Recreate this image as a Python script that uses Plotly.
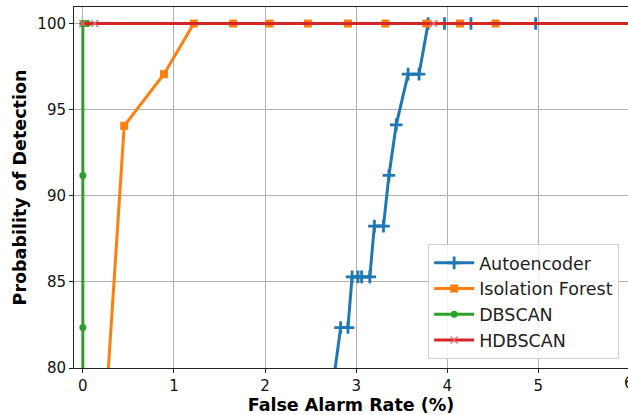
import plotly.graph_objects as go

# ---- data ----
ae_far = [2.68, 2.83, 2.91, 2.955, 3.02, 3.06, 3.15, 3.20, 3.30, 3.36, 3.44, 3.57, 3.69, 3.79, 3.97, 4.26, 4.97]
ae_pd = [76.47, 82.35, 82.35, 85.29, 85.29, 85.29, 85.29, 88.24, 88.24, 91.18, 94.12, 97.06, 97.06, 100, 100, 100, 100]

if_far = [0.20, 0.454, 0.89, 1.218, 1.65, 2.05, 2.47, 2.91, 3.32, 3.77, 4.14, 4.53]
if_pd = [73.5, 94.06, 97.06, 100, 100, 100, 100, 100, 100, 100, 100, 100]

db_far = [0, 0, 0, 0, 0.03, 0.05]
db_pd = [70.59, 82.35, 91.18, 100, 100, 100]

hdb_far = [0, 0.13, 3.85, 6.5]
hdb_pd = [100, 100, 100, 100]

x_ticks = [0, 1, 2, 3, 4, 5, 6]
y_ticks = [80, 85, 90, 95, 100]

FONT = "DejaVu Sans"
TICK_SIZE = 15
TITLE_SIZE = 17.5
LEGEND_SIZE = 17.5
X_RANGE = [-0.097, 5.984]

fig = go.Figure()
fig.add_trace(go.Scatter(
    x=ae_far, y=ae_pd, name="Autoencoder", mode="lines+markers",
    line=dict(color="#1f77b4", width=3),
    marker=dict(symbol="cross-thin", size=9, line=dict(color="#1f77b4", width=2.8), color="#1f77b4"),
))
fig.add_trace(go.Scatter(
    x=if_far, y=if_pd, name="Isolation Forest", mode="lines+markers",
    line=dict(color="#ff7f0e", width=3),
    marker=dict(symbol="square", size=8, color="#ff7f0e"),
))
fig.add_trace(go.Scatter(
    x=db_far, y=db_pd, name="DBSCAN", mode="lines+markers",
    line=dict(color="#2ca02c", width=3),
    marker=dict(symbol="circle", size=7, color="#2ca02c"),
))
fig.add_trace(go.Scatter(
    x=hdb_far, y=hdb_pd, name="HDBSCAN", mode="lines+markers",
    line=dict(color="#d62728", width=3),
    marker=dict(symbol="x-thin", size=7, line=dict(color="#e8666a", width=1.2), color="#e8666a"),
))

axis_common = dict(
    showgrid=True, gridcolor="#b0b0b0", gridwidth=0.8,
    showline=True, linecolor="#222", linewidth=1, mirror=True,
    ticks="outside", ticklen=4, tickcolor="#222", tickwidth=1,
    zeroline=False,
    tickfont=dict(family=FONT, size=TICK_SIZE, color="#111"),
)

fig.update_layout(
    width=628, height=415,
    margin=dict(l=74, r=0, t=7, b=47),
    paper_bgcolor="white", plot_bgcolor="white",
    font=dict(family=FONT, size=TICK_SIZE, color="#111"),
    xaxis=dict(
        range=X_RANGE, tickvals=x_ticks, ticktext=[str(v) for v in x_ticks],
        title=dict(text="<b>False Alarm Rate (%)</b>", font=dict(family=FONT, size=TITLE_SIZE, color="#000"), standoff=2),
        **axis_common,
    ),
    yaxis=dict(
        range=[80, 100.96], tickvals=y_ticks, ticktext=[str(v) for v in y_ticks],
        title=dict(text="<b>Probability of Detection</b>", font=dict(family=FONT, size=TITLE_SIZE, color="#000"), standoff=6),
        **axis_common,
    ),
    legend=dict(
        x=0.984, y=0.025, xanchor="right", yanchor="bottom",
        bgcolor="rgba(255,255,255,0.85)", bordercolor="#d0d0d0", borderwidth=1,
        font=dict(family=FONT, size=LEGEND_SIZE, color="#222"),
        tracegroupgap=0, itemwidth=40,
    ),
    showlegend=True,
)

# partially visible "6" tick label at the clipped right edge (paper coords beyond 1)
six_frac = (x_ticks[-1] - X_RANGE[0]) / (X_RANGE[1] - X_RANGE[0])
fig.add_annotation(
    x=six_frac, y=0, xref="paper", yref="paper", xanchor="center", yanchor="top", yshift=-4,
    text=str(x_ticks[-1]), showarrow=False, font=dict(family=FONT, size=TICK_SIZE, color="#111"),
)

fig.write_html(
    "out.html",
    config={"displayModeBar": False},
    post_script="document.body.style.margin='0';document.body.style.overflow='hidden';",
)
